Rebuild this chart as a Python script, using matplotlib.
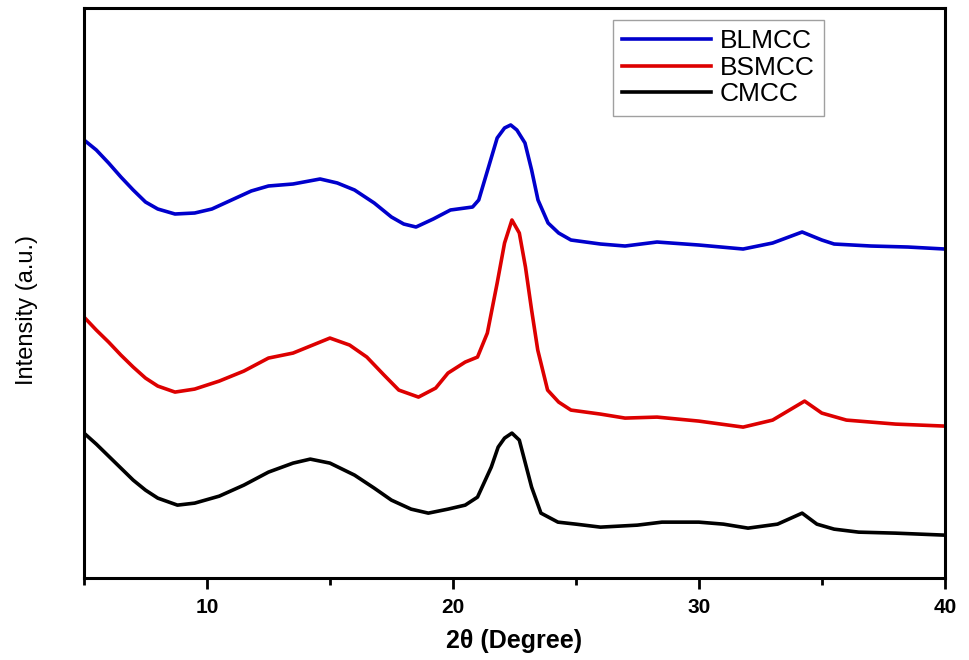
import matplotlib.pyplot as plt
from matplotlib.ticker import MultipleLocator

# 2theta positions and intensities (a.u.)
two_theta_blm = [5.0, 5.5, 6.0, 6.5, 7.0, 7.5, 8.0, 8.7, 9.5, 10.2, 11.0, 11.8, 12.5, 13.5,
                 14.6, 15.3, 16.0, 16.8, 17.5, 18.0, 18.5, 19.2, 19.9, 20.5, 20.8, 21.05,
                 21.45, 21.8, 22.1, 22.35, 22.6, 22.93, 23.2, 23.46, 23.87, 24.3, 24.8,
                 26.0, 27.0, 28.3, 30.0, 31.8, 33.0, 34.2, 35.0, 35.5, 37.0, 38.5, 40.0]
blmcc = [438, 428, 415, 401, 388, 376, 369, 364, 365, 369, 378, 387, 392, 394,
         399, 395, 388, 375, 361, 354, 351, 359, 368, 370, 371, 378,
         411, 440, 450, 453, 448, 435, 408, 378, 355, 345, 338,
         334, 332, 336, 333, 329, 335, 346, 338, 334, 332, 331, 329]

two_theta_bsm = [5.0, 5.5, 6.0, 6.5, 7.0, 7.5, 8.0, 8.7, 9.5, 10.5, 11.5, 12.5, 13.5, 14.3,
                 15.0, 15.8, 16.5, 17.2, 17.8, 18.6, 19.3, 19.8, 20.5, 21.0, 21.4, 21.8,
                 22.1, 22.4, 22.7, 22.95, 23.2, 23.45, 23.85, 24.3, 24.8, 26.0, 27.0,
                 28.3, 30.0, 31.8, 33.0, 34.3, 35.0, 36.0, 38.0, 40.0]
bsmcc = [261, 248, 236, 223, 211, 200, 192, 186, 189, 197, 207, 220, 225, 233,
         240, 233, 221, 203, 188, 181, 190, 205, 216, 221, 245, 295,
         335, 358, 345, 311, 268, 228, 188, 176, 168, 164, 160,
         161, 157, 151, 158, 177, 165, 158, 154, 152]

two_theta_c = [5.0, 5.5, 6.0, 6.5, 7.0, 7.5, 8.0, 8.8, 9.5, 10.5, 11.5, 12.5, 13.5, 14.2,
               15.0, 16.0, 16.8, 17.5, 18.3, 19.0, 19.8, 20.5, 21.0, 21.56, 21.84, 22.1,
               22.4, 22.7, 23.2, 23.58, 24.27, 25.0, 26.0, 27.5, 28.5, 30.0, 31.0, 32.0,
               33.2, 34.2, 34.8, 35.5, 36.5, 38.0, 40.0]
cmcc = [145, 134, 122, 110, 98, 88, 80, 73, 75, 82, 93, 106, 115, 119,
        115, 103, 90, 78, 69, 65, 69, 73, 81, 111, 131, 140,
        145, 138, 91, 65, 56, 54, 51, 53, 56, 56, 54, 50,
        54, 65, 54, 49, 46, 45, 43]

fnt = 'Liberation Sans'

fig = plt.figure(figsize=(9.7, 6.6), dpi=100)
ax = fig.add_axes([0.0866, 0.124, 0.8874, 0.864])

ax.plot(two_theta_blm, blmcc, color='#0000cc', lw=2.6, label='BLMCC')
ax.plot(two_theta_bsm, bsmcc, color='#dd0000', lw=2.6, label='BSMCC')
ax.plot(two_theta_c, cmcc, color='black', lw=2.6, label='CMCC')

ax.set_xlim(5, 40)
ax.set_ylim(0, 570)
ax.set_yticks([])
ax.xaxis.set_major_locator(MultipleLocator(10))
ax.xaxis.set_minor_locator(MultipleLocator(5))
ax.tick_params(axis='x', which='major', direction='out', length=8, width=2, pad=6)
ax.tick_params(axis='x', which='minor', direction='out', length=5, width=2)
for lab in ax.get_xticklabels():
    lab.set_fontweight('bold')
    lab.set_fontsize(15)
    lab.set_family(fnt)
for s in ax.spines.values():
    s.set_linewidth(2.2)

ax.set_xlabel('2θ (Degree)', fontsize=18, fontweight='bold', family=fnt, labelpad=9)
ax.set_ylabel('Intensity (a.u.)', fontsize=17, family=fnt)
ax.yaxis.set_label_coords(-0.053, 0.47)

leg = ax.legend(loc='upper left', bbox_to_anchor=(0.614, 0.979), borderaxespad=0,
                fancybox=False, handlelength=3.4, handletextpad=0.3,
                labelspacing=0.1, borderpad=0.35, prop={'family': fnt, 'size': 19})
leg.get_frame().set_edgecolor('#888888')
leg.get_frame().set_linewidth(1)

fig.savefig('out.png', dpi=100)
